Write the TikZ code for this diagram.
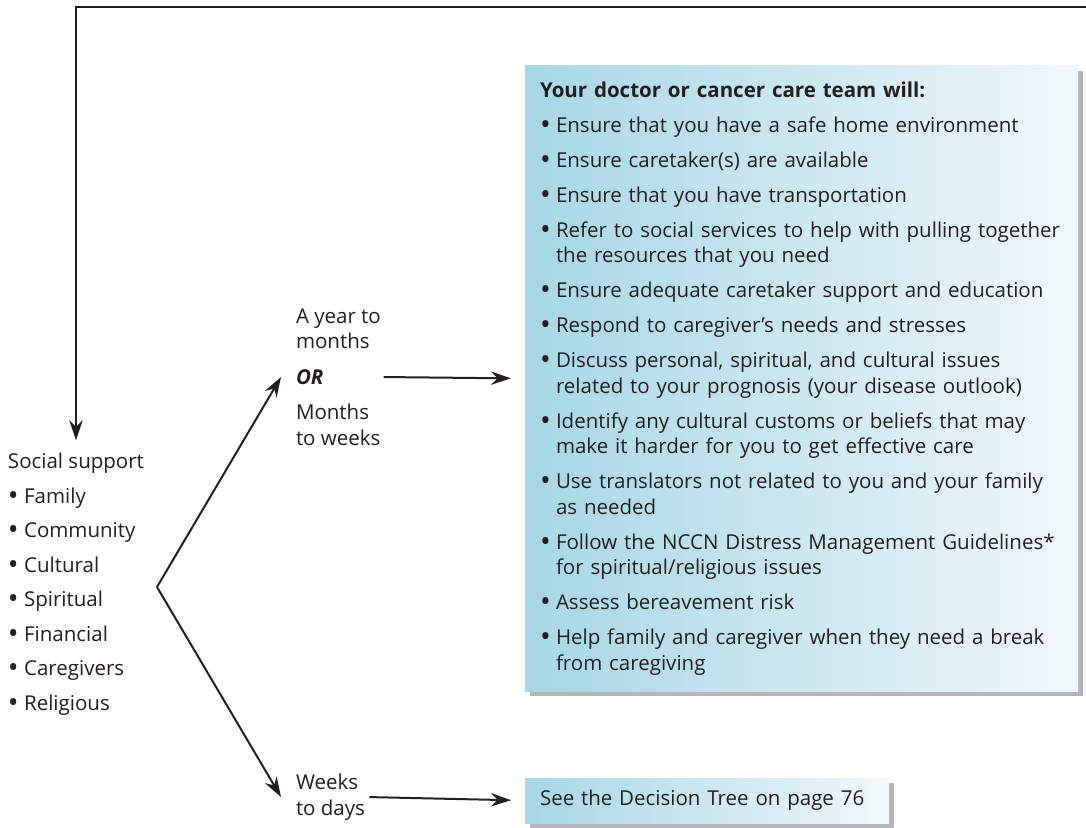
\documentclass[tikz,border=0pt]{standalone}
\usepackage{fontspec}
\usepackage{graphicx}
\setmainfont{Open Sans}
\usetikzlibrary{arrows.meta, positioning, shadows}

\definecolor{inkgray}{RGB}{35,31,32}
\definecolor{boxleft}{RGB}{166,215,231}
\definecolor{boxright}{RGB}{241,248,251}
\definecolor{shadowgray}{RGB}{182,182,186}

\newcommand{\bigbullet}{\raisebox{-0.1em}{\scalebox{1.4}{\textbullet}}}
\newcommand{\careitem}{\par\hangindent=9.6pt\hangafter=1\noindent\makebox[9.6pt][l]{\bigbullet}}

\begin{document}
\begin{tikzpicture}[
            x = 0.6pt, y = -0.6pt, % one unit per pixel of the page
            > = {Stealth[length=12pt, width=8pt, inset=4pt]}, % arrow head style
            line width = 1.2pt, % line style
            draw = inkgray
        ]

        \tikzstyle{stage}=[
            inner sep = 0pt,
            align = left,
            text = inkgray,
            font = \fontsize{12.3}{15.3}\selectfont
        ]
        \tikzstyle{infobox}=[
            inner xsep = 9pt,
            inner ysep = 0pt,
            text = inkgray,
            left color = boxleft,
            right color = boxright,
            drop shadow = {shadow xshift=3pt, shadow yshift=-3pt,
                           fill=shadowgray, opacity=1},
            font = \fontsize{12.3}{15.3}\selectfont
        ]

        \useasboundingbox (0,0) rectangle (1086,827);

        % left column
        \node[stage, anchor=north west, font=\fontsize{12.3}{20.7}\selectfont]
            (social) at (7,452) {Social support\\ \bigbullet\ Family\\
            \bigbullet\ Community\\ \bigbullet\ Cultural\\ \bigbullet\ Spiritual\\
            \bigbullet\ Financial\\ \bigbullet\ Caregivers\\ \bigbullet\ Religious};
        \coordinate (fork) at (157,587);
        \coordinate (loop) at (1086,7);

        % time frames
        \node[stage, anchor=west] (early) at (295,377)
            {A year to\\ months\\[6pt] \textbf{\textit{OR}}\\[6pt] Months\\ to weeks};
        \node[stage, anchor=west] (late) at (295,797) {Weeks\\ to days};

        % boxes
        \node[infobox, anchor=north west, text width=313.8pt,
              minimum height=375pt] (care) at (524,65) {\raggedright
            \textbf{Your doctor or cancer care team will:}\par
            \setlength{\parskip}{5.7pt}
            \careitem Ensure that you have a safe home environment
            \careitem Ensure caretaker(s) are available
            \careitem Ensure that you have transportation
            \careitem Refer to social services to help with pulling together\newline
                the resources that you need
            \careitem Ensure adequate caretaker support and education
            \careitem Respond to caregiver’s needs and stresses
            \careitem Discuss personal, spiritual, and cultural issues\newline
                related to your prognosis (your disease outlook)
            \careitem Identify any cultural customs or beliefs that may\newline
                make it harder for you to get effective care
            \careitem Use translators not related to you and your family\newline
                as needed
            \careitem Follow the NCCN Distress Management Guidelines*\newline
                for spiritual/religious issues
            \careitem Assess bereavement risk
            \careitem Help family and caregiver when they need a break\newline
                from caregiving\par};
        \node[infobox, below=51pt of care.south west, anchor=north west,
              text width=200.4pt, minimum height=27pt, align=left]
            (decision) {See the Decision Tree on page 76};

        \draw[->, shorten >=7pt] (loop) -| (social.north);
        \draw[->] (fork) -- ([xshift=-8.4pt]early.west);
        \draw[->] (fork) -- ([xshift=-8.4pt]late.west);
        \draw[->, shorten <=1pt, shorten >=7.8pt] (early.east) -- (care.west);
        \draw[->, shorten <=2pt, shorten >=7.8pt] (late.east) -- (decision.west);

  \end{tikzpicture}
\end{document}
